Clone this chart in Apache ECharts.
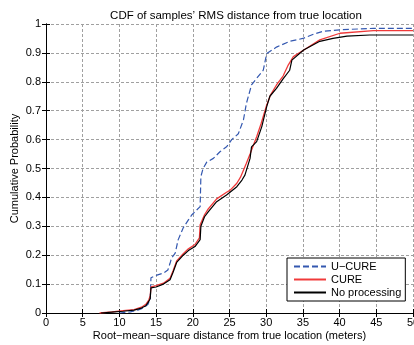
<!DOCTYPE html>
<html>
<head>
<meta charset="utf-8">
<script src="https://cdn.jsdelivr.net/npm/echarts@6/dist/echarts.min.js"></script>
<style>
	html, body { margin: 0; padding: 0; background: #fff; }
	#chart { width: 414px; height: 345px; }
</style>
</head>
<body>
<div id="chart"></div>
<script>
// CDF 曲线数据 [距离, 累计概率]
var ucureData = [
	[10, 0], [11.5, 0.004], [12.5, 0.01], [13.3, 0.018], [13.9, 0.03], [14.2, 0.05], [14.3, 0.122],
	[15, 0.13], [16, 0.138], [16.6, 0.149], [16.9, 0.172], [17.1, 0.19], [17.6, 0.207], [18.0, 0.253],
	[18.7, 0.295], [19.4, 0.322], [19.85, 0.339], [20.5, 0.356], [21.0, 0.368], [21.1, 0.472],
	[21.4, 0.5], [21.9, 0.522], [22.8, 0.535], [23.7, 0.558], [24.6, 0.575], [25.3, 0.6], [26.2, 0.62],
	[26.9, 0.668], [27.3, 0.725], [28.0, 0.789], [28.7, 0.812], [29.6, 0.84], [30.07, 0.898],
	[31.4, 0.92], [33.2, 0.94], [35, 0.95], [36.5, 0.965], [37.8, 0.975], [40, 0.98], [44.6, 0.985], [50, 0.985]
];
var cureData = [
	[7.3, 0], [9, 0.004], [10.5, 0.008], [12, 0.012], [13, 0.02], [13.6, 0.03], [14.0, 0.045], [14.2, 0.06],
	[14.3, 0.09], [15, 0.095], [16, 0.103], [16.9, 0.12], [17.3, 0.145], [17.8, 0.18], [18.7, 0.205],
	[19.4, 0.222], [20.3, 0.237], [20.9, 0.26], [21.0, 0.305], [21.6, 0.34], [22.1, 0.36], [23.25, 0.395],
	[24.6, 0.418], [25.1, 0.425], [26, 0.449], [26.5, 0.47], [27.3, 0.518], [27.8, 0.55], [28.7, 0.61],
	[29.3, 0.655], [30.07, 0.72], [30.6, 0.755], [31.4, 0.789], [32.3, 0.82], [33.0, 0.858], [33.7, 0.887],
	[35.5, 0.916], [37.3, 0.945], [40.05, 0.968], [44.6, 0.977], [50, 0.977]
];
var rawData = [
	[7.5, 0], [9, 0.003], [10.5, 0.006], [12, 0.01], [13, 0.017], [13.6, 0.025], [14.0, 0.04], [14.2, 0.05],
	[14.3, 0.087], [15, 0.09], [16, 0.1], [16.9, 0.115], [17.3, 0.14], [17.8, 0.175], [18.7, 0.2],
	[19.4, 0.216], [20.3, 0.23], [21.0, 0.254], [21.1, 0.3], [21.6, 0.333], [22.1, 0.35], [23.25, 0.385],
	[24.6, 0.408], [26.0, 0.437], [26.7, 0.46], [27.1, 0.477], [27.8, 0.535], [28.0, 0.575], [28.7, 0.593],
	[29.4, 0.645], [30.07, 0.714], [30.5, 0.75], [31.4, 0.777], [32.3, 0.81], [33.2, 0.84], [33.5, 0.875],
	[35.1, 0.91], [37.3, 0.94], [39.1, 0.95], [41, 0.958], [44.1, 0.962], [50, 0.962]
];
var seriesNames = ['U\u2212CURE', 'CURE', 'No processing'];

var myChart = echarts.init(document.getElementById('chart'));
var font = 'Liberation Sans, Arial, sans-serif';
var gridLine = { show: true, lineStyle: { color: '#a0a0a0', width: 1, type: [3, 2] } };
var option = {
	animation: false,
	backgroundColor: '#fff',
	title: {
		text: "CDF of samples\u2019 RMS distance from true location",
		left: 231,
		top: 5,
		textAlign: 'center',
		textStyle: { fontFamily: font, fontSize: 11.5, fontWeight: 'normal', color: '#000' }
	},
	legend: {
		orient: 'vertical',
		left: 287,
		top: 258,
		padding: [3, 4, 3, 6],
		itemGap: 2,
		itemWidth: 32,
		itemHeight: 12,
		backgroundColor: '#fff',
		borderColor: '#000',
		borderWidth: 1,
		borderRadius: 0,
		itemStyle: { opacity: 0 },
		data: seriesNames,
		textStyle: { fontFamily: font, fontSize: 11, color: '#000' }
	},
	grid: { left: 46, right: 1, top: 24, bottom: 32, outerBoundsMode: 'none' },
	xAxis: [{
		type: 'value', min: 0, max: 50, interval: 5,
		name: 'Root\u2212mean\u2212square distance from true location (meters)',
		nameLocation: 'middle', nameGap: 17, nameMoveOverlap: false,
		nameTextStyle: { fontFamily: font, fontSize: 11, color: '#000' },
		axisLine: { lineStyle: { color: '#000', width: 1 } },
		axisTick: { inside: true, length: 4, lineStyle: { color: '#000' } },
		axisLabel: { margin: 4, fontFamily: font, fontSize: 11, color: '#000' },
		splitLine: gridLine
	}, {
		type: 'value', min: 0, max: 50, interval: 5, position: 'top',
		axisLine: { show: true, lineStyle: { color: '#000', width: 1 } },
		axisTick: { inside: true, length: 4, lineStyle: { color: '#000' } },
		axisLabel: { show: false },
		splitLine: { show: false }
	}],
	yAxis: [{
		type: 'value', min: 0, max: 1, interval: 0.1,
		name: 'Cumulative Probability',
		nameLocation: 'middle', nameGap: 26, nameMoveOverlap: false,
		nameTextStyle: { fontFamily: font, fontSize: 11, color: '#000' },
		axisLine: { show: true, lineStyle: { color: '#000', width: 1 } },
		axisTick: { show: true, inside: true, length: 4, lineStyle: { color: '#000' } },
		axisLabel: { margin: 5, fontFamily: font, fontSize: 11, color: '#000' },
		splitLine: gridLine
	}, {
		type: 'value', min: 0, max: 1, interval: 0.1, position: 'right',
		axisLine: { show: true, lineStyle: { color: '#000', width: 1 } },
		axisTick: { show: true, inside: true, length: 4, lineStyle: { color: '#000' } },
		axisLabel: { show: false },
		splitLine: { show: false }
	}],
	series: [{
		name: seriesNames[0],
		type: 'line',
		symbol: 'none',
		data: ucureData,
		itemStyle: { color: '#3458b0' },
		lineStyle: { color: '#3458b0', width: 1.2, type: [6, 3] }
	}, {
		name: seriesNames[1],
		type: 'line',
		symbol: 'none',
		data: cureData,
		itemStyle: { color: '#f03a3a' },
		lineStyle: { color: '#f03a3a', width: 1.3 }
	}, {
		name: seriesNames[2],
		type: 'line',
		symbol: 'none',
		data: rawData,
		itemStyle: { color: '#000' },
		lineStyle: { color: '#000', width: 1.2 }
	}]
};
myChart.setOption(option);
window.addEventListener('resize', function() {
	myChart.resize();
});
</script>
</body>
</html>
